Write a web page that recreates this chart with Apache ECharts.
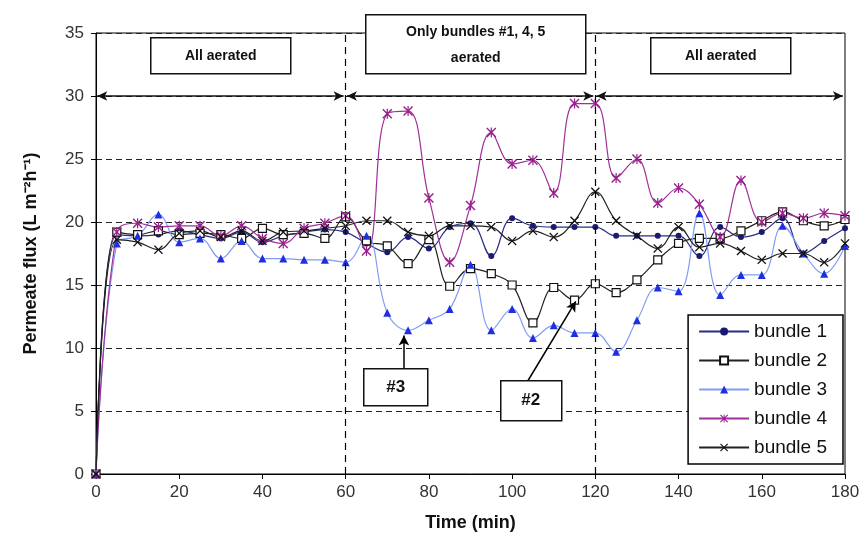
<!DOCTYPE html>
<html><head><meta charset="utf-8">
<script src="https://cdn.jsdelivr.net/npm/echarts@6/dist/echarts.min.js"></script>
<style>html,body{margin:0;padding:0;background:#fff}#c{width:867px;height:545px}</style>
</head><body><div id="c"></div>
<script>
const times = [0,5,10,15,20,25,30,35,40,45,50,55,60,65,70,75,80,85,90,95,100,105,110,115,120,125,130,135,140,145,150,155,160,165,170,175,180];
const bundle1 = [0,19.0,18.9,19.0,19.3,19.0,18.7,19.2,18.4,18.9,19.2,19.4,19.2, 18.3,17.6,18.8,17.9,19.6,19.9,17.3,20.3,19.7,19.6,19.6,19.6, 18.9,18.9,18.9,18.9,17.3,19.6,18.8,19.2,20.3,17.5,18.5,19.5];
const bundle2 = [0,19.2,19.0,19.3,19.0,19.1,19.0,18.7,19.5,19.0,19.1,18.7,20.4, 18.5,18.1,16.7,18.6,14.9,16.3,15.9,15.0,12.0,14.8,13.8,15.1, 14.4,15.4,17.0,18.3,18.7,18.7,19.3,20.1,20.8,20.1,19.7,20.2];
const bundle3 = [0,18.3,18.9,20.6,18.4,18.7,17.1,18.5,17.1,17.1,17.0,17.0,16.8, 18.9,12.8,11.4,12.2,13.1,16.6,11.4,13.1,10.8,11.8,11.2,11.2, 9.7,12.2,14.8,14.5,20.7,14.2,15.8,15.8,19.7,17.5,15.9,18.1];
const bundle4 = [0,19.2,19.9,19.6,19.7,19.7,18.9,19.7,18.7,18.3,19.5,19.9,20.5, 17.7,28.6,28.8,21.9,16.8,21.3,27.1,24.6,24.9,22.3,29.4,29.4, 23.5,25.0,21.5,22.7,21.4,18.8,23.3,20.0,20.7,20.3,20.7,20.5];
const bundle5 = [0,18.6,18.4,17.8,19.1,19.3,18.8,19.3,18.5,19.2,19.3,19.5,19.7, 20.1,20.1,19.2,18.9,19.7,19.7,19.6,18.5,19.3,18.8,20.1,22.4, 20.1,18.9,17.9,19.6,18.0,18.3,17.7,17.0,17.5,17.5,16.8,18.3];
const seriesNames = ['bundle 1','bundle 2','bundle 3','bundle 4','bundle 5'];
const phaseBounds = [0,60,120,180];
const phaseLabels = ['All aerated','Only bundles #1, 4, 5\naerated','All aerated'];

const pairs = arr => times.map((t,i)=>[t,arr[i]]);
const X_PATH = 'path://M0,1L1,0L5,4L9,0L10,1L6,5L10,9L9,10L5,6L1,10L0,9L4,5Z';
const AST_PATH = 'path://M0,1L1,0L5,4L9,0L10,1L6,5L10,9L9,10L5,6L1,10L0,9L4,5ZM4.4,0L5.6,0L5.6,10L4.4,10Z';

const chart = echarts.init(document.getElementById('c'), null, {renderer:'canvas'});
const font = 'Arial, "Liberation Sans", sans-serif';

const arrowLines = [];
for (let i=0;i<3;i++){
  arrowLines.push([{coord:[phaseBounds[i]+0.3,30]},{coord:[phaseBounds[i+1]-0.5,30]}]);
}
const option = {
  animation:false,
  textStyle:{fontFamily:font},
  grid:{left:96,right:22,top:33,bottom:71,show:true,borderColor:'#000',borderWidth:1},
  legend:{
    orient:'vertical', right:24, top:315, data:seriesNames,
    backgroundColor:'#fff', borderColor:'#000', borderWidth:1.5,
    padding:[7,16,7,10], itemGap:10, itemWidth:50, itemHeight:10,
    textStyle:{fontSize:19,color:'#111',fontFamily:font}
  },
  xAxis:{
    type:'value', min:0, max:180, interval:20,
    name:'Time (min)', nameLocation:'middle', nameGap:40,
    nameTextStyle:{fontSize:18,fontWeight:'bold',color:'#111'},
    axisLine:{lineStyle:{color:'#000',width:1}},
    axisTick:{show:true,length:5,lineStyle:{color:'#000'}},
    axisLabel:{fontSize:17,color:'#333',margin:10},
    splitLine:{show:false}
  },
  yAxis:{
    type:'value', min:0, max:35, interval:5,
    name:'Permeate flux (L m⁻²h⁻¹)', nameLocation:'middle', nameGap:56,
    nameTextStyle:{fontSize:18,fontWeight:'bold',color:'#111'},
    axisLine:{show:true,lineStyle:{color:'#000',width:1}},
    axisTick:{show:true,length:5,lineStyle:{color:'#000'}},
    axisLabel:{fontSize:17,color:'#333',margin:12},
    splitLine:{show:true,lineStyle:{color:'#222',type:[6,4],width:1}}
  },
  series:[
    {name:'bundle 1',type:'line',data:pairs(bundle1),smooth:0.4,symbol:'circle',symbolSize:6,
     lineStyle:{color:'#2a2a8a',width:1.2},itemStyle:{color:'#1a1a70'}, z:3,
     markLine:{silent:true,symbol:['none','none'],label:{show:false},
       lineStyle:{color:'#000',type:[7,5],width:1.2},
       data:[[{coord:[60,0]},{coord:[60,35]}],[{coord:[120,0]},{coord:[120,35]}]]}},
    {name:'bundle 2',type:'line',data:pairs(bundle2),smooth:0.4,symbol:'rect',symbolSize:8,
     lineStyle:{color:'#222',width:1.2},itemStyle:{color:'#fff',borderColor:'#111',borderWidth:1.2}, z:3,
     markLine:{silent:true,symbol:['arrow','arrow'],symbolSize:[7,10],label:{show:false},
       lineStyle:{color:'#111',type:'solid',width:1.5},
       data:arrowLines}},
    {name:'bundle 3',type:'line',data:pairs(bundle3),smooth:0.4,symbol:'triangle',symbolSize:8,
     lineStyle:{color:'#7f9cf5',width:1.2},itemStyle:{color:'#1f2fe0'}, z:3,
     markLine:{silent:true,symbol:['none','arrow'],symbolSize:[8,10],label:{show:false},
       lineStyle:{color:'#000',type:'solid',width:1.5},
       data:[[{coord:[74.0,8.4]},{coord:[74.0,11.0]}],[{coord:[103.8,7.4]},{coord:[115.3,13.7]}]]}},
    {name:'bundle 4',type:'line',data:pairs(bundle4),smooth:0.4,symbol:AST_PATH,symbolSize:10,
     lineStyle:{color:'#a0309a',width:1.2},itemStyle:{color:'#9a1f8e'}, z:3},
    {name:'bundle 5',type:'line',data:pairs(bundle5),smooth:0.4,symbol:X_PATH,symbolSize:9,
     lineStyle:{color:'#222',width:1.2},itemStyle:{color:'#111'}, z:3}
  ],
  graphic:[
    {type:'group',left:150,top:37,z:100,children:[
      {type:'rect',z:100,shape:{x:0,y:0,width:140,height:36},style:{fill:'#fff',stroke:'#111',lineWidth:1.5}},
      {type:'text',z:101,x:70,y:18,style:{text:phaseLabels[0],fontSize:14,fontWeight:'bold',fill:'#111',align:'center',verticalAlign:'middle',fontFamily:font}}
    ]},
    {type:'group',left:365,top:14,z:100,children:[
      {type:'rect',z:100,shape:{x:0,y:0,width:220,height:59},style:{fill:'#fff',stroke:'#111',lineWidth:1.5}},
      {type:'text',z:101,x:110,y:30,style:{text:phaseLabels[1],fontSize:14,fontWeight:'bold',fill:'#111',align:'center',verticalAlign:'middle',lineHeight:26,fontFamily:font}}
    ]},
    {type:'group',left:650,top:37,z:100,children:[
      {type:'rect',z:100,shape:{x:0,y:0,width:140,height:36},style:{fill:'#fff',stroke:'#111',lineWidth:1.5}},
      {type:'text',z:101,x:70,y:18,style:{text:phaseLabels[2],fontSize:14,fontWeight:'bold',fill:'#111',align:'center',verticalAlign:'middle',fontFamily:font}}
    ]},
    {type:'group',left:363,top:368,z:100,children:[
      {type:'rect',z:100,shape:{x:0,y:0,width:64,height:37},style:{fill:'#fff',stroke:'#111',lineWidth:1.5}},
      {type:'text',z:101,x:32,y:19,style:{text:'#3',fontSize:17,fontWeight:'bold',fill:'#111',align:'center',verticalAlign:'middle',fontFamily:font}}
    ]},
    {type:'group',left:500,top:380,z:100,children:[
      {type:'rect',z:100,shape:{x:0,y:0,width:61,height:40},style:{fill:'#fff',stroke:'#111',lineWidth:1.5}},
      {type:'text',z:101,x:30,y:20,style:{text:'#2',fontSize:17,fontWeight:'bold',fill:'#111',align:'center',verticalAlign:'middle',fontFamily:font}}
    ]}
  ]
};
chart.setOption(option);
</script></body></html>
